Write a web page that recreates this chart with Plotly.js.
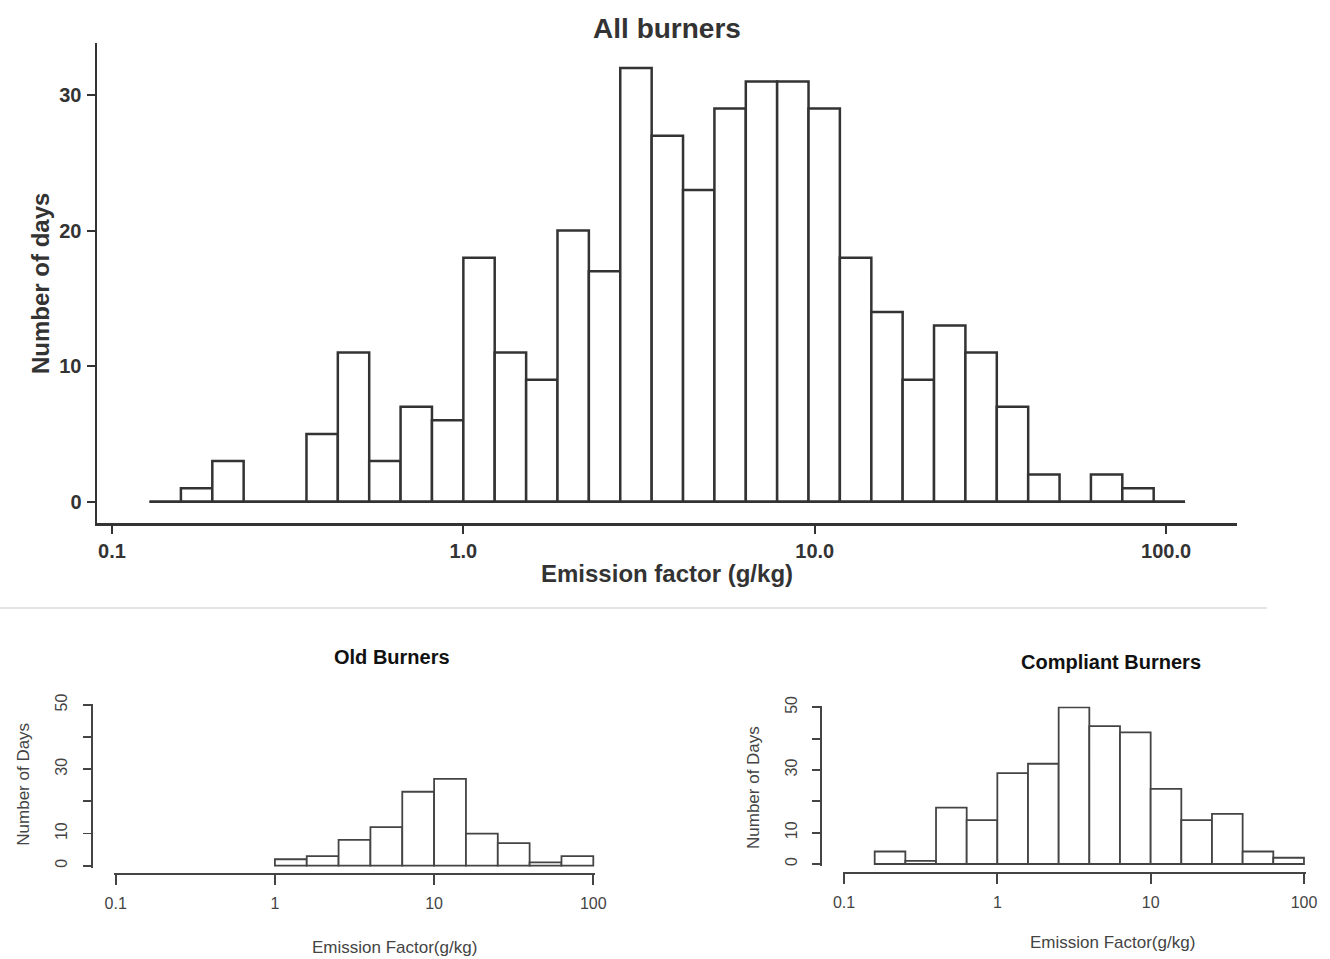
<!DOCTYPE html>
<html><head><meta charset="utf-8">
<script src="https://cdn.plot.ly/plotly-3.0.1.min.js"></script>
<style>html,body{margin:0;padding:0;background:#fff}#chart{width:1330px;height:959px}</style>
</head><body><div id="chart"></div>
<script>
// ---- All burners (top): bin edges in g/kg and counts ----
const allEdges = [0.1279,0.1571,0.1930,0.2370,0.2911,0.3577,0.4393,0.5396,0.6628,0.8141,1.0,
  1.228,1.509,1.853,2.276,2.796,3.435,4.219,5.182,6.365,7.816,9.601,11.79,14.49,17.79,21.85,
  26.84,32.97,40.50,49.74,61.09,75.04,92.17,113.2];
const allCounts = [0,1,3,0,0,5,11,3,7,6,18,11,9,20,17,32,27,23,29,31,31,29,18,14,9,13,11,7,2,0,2,1,0];

// ---- Old Burners ----
const oldEdges = [1,1.585,2.512,3.981,6.310,10,15.85,25.12,39.81,63.10,100];
const oldCounts = [2,3,8,12,23,27,10,7,1,3];

// ---- Compliant Burners ----
const compEdges = [0.1585,0.2512,0.3981,0.6310,1,1.585,2.512,3.981,6.310,10,15.85,25.12,39.81,63.10,100];
const compCounts = [4,1,18,14,29,32,50,44,42,24,14,16,4,2];

// ---- Tick labels ----
const xTickValues = [0.1,1,10,100];
const topXTickText = ["0.1","1.0","10.0","100.0"];
const bottomXTickText = ["0.1","1","10","100"];
const topYTicks = [0,10,20,30];
const bottomYTicks = [0,10,20,30,40,50];
const bottomYTickText = ["0","10","","30","","50"];

const W = 1330, H = 959;
const fx = p => p / W, fy = p => 1 - p / H;
const FONT = 'Liberation Sans, Arial, sans-serif';
const ink = '#333333';

function barTrace(edges, counts, xa, ya, lw, col) {
  const lo = edges.map(Math.log10);
  const x = [], w = [];
  for (let i = 0; i < counts.length; i++) { x.push((lo[i] + lo[i+1]) / 2); w.push(lo[i+1] - lo[i]); }
  return {type:'bar', x:x, y:counts, width:w, xaxis:xa, yaxis:ya,
    marker:{color:'#ffffff', line:{color:col, width:lw}}, hoverinfo:'skip', showlegend:false};
}
const allLog = allEdges.map(Math.log10);
const baseline = {type:'scatter', mode:'lines', x:[allLog[0], allLog[allLog.length-1]], y:[0,0],
  xaxis:'x', yaxis:'y', line:{color:ink, width:2.5}, hoverinfo:'skip', showlegend:false};

const traces = [
  barTrace(allEdges, allCounts, 'x', 'y', 2.5, ink),
  baseline,
  barTrace(oldEdges, oldCounts, 'x2', 'y2', 1.8, '#444'),
  barTrace(compEdges, compCounts, 'x3', 'y3', 1.8, '#444')
];

const tv = xTickValues.map(Math.log10);
const topTickFont = {family:FONT, size:20, weight:'bold', color:ink};
const botTickFont = {family:FONT, size:16, color:'#444'};

function botX(d0, d1, pos) {
  return {domain:[fx(d0), fx(d1)], range:[-1.01, 2.01], anchor:'free', position:fy(pos),
    tickvals:tv, ticktext:bottomXTickText, ticks:'outside', ticklen:10, tickwidth:1.8, tickcolor:'#444',
    showline:true, linewidth:1.8, linecolor:'#444', showgrid:false, zeroline:false,
    tickfont:botTickFont, ticklabelstandoff:5, fixedrange:true};
}
function botY(p0, p1, pos) {
  return {domain:[fy(p0), fy(p1)], range:[-0.6, 50.3], anchor:'free', position:fx(pos),
    tickvals:bottomYTicks, ticktext:bottomYTickText, tickangle:-90, ticks:'outside', ticklen:8,
    tickwidth:1.8, tickcolor:'#444', showline:true, linewidth:1.8, linecolor:'#444',
    showgrid:false, zeroline:false, tickfont:botTickFont, ticklabelstandoff:9, fixedrange:true};
}

const layout = {
  width:W, height:H, margin:{l:0,r:0,t:0,b:0}, paper_bgcolor:'#ffffff', plot_bgcolor:'rgba(0,0,0,0)',
  showlegend:false, bargap:0, barmode:'overlay',
  title:{text:'All burners', x:fx(667), y:fy(28), xanchor:'center', yanchor:'middle',
    font:{family:FONT, size:28, weight:'bold', color:ink}},
  xaxis:{domain:[fx(97), fx(1237)], range:[-1.0426, 2.2017], anchor:'y',
    tickvals:tv, ticktext:topXTickText, ticks:'outside', ticklen:8, tickwidth:2, tickcolor:ink,
    showline:true, linewidth:2.5, linecolor:ink, showgrid:false, zeroline:false,
    tickfont:topTickFont, ticklabelstandoff:0, fixedrange:true},
  yaxis:{domain:[fy(523), fy(43)], range:[-1.571, 33.84], anchor:'x',
    tickvals:topYTicks, ticks:'outside', ticklen:8, tickwidth:2, tickcolor:ink,
    showline:true, linewidth:2.5, linecolor:ink, showgrid:false, zeroline:false,
    tickfont:topTickFont, ticklabelstandoff:1, fixedrange:true},
  xaxis2: botX(114.1, 594.9, 872.7),
  yaxis2: botY(867.6, 704.0, 90.7),
  xaxis3: botX(842.5, 1305.5, 871.7),
  yaxis3: botY(865.9, 706.4, 820),
  shapes:[{type:'line', xref:'paper', yref:'paper', x0:0, x1:fx(1267), y0:fy(608), y1:fy(608),
    line:{color:'#e4e4e4', width:2}}],
  annotations:[
    {text:'Number of days', x:fx(40), y:fy(284), xref:'paper', yref:'paper', textangle:-90,
      showarrow:false, xanchor:'center', yanchor:'middle', font:{family:FONT, size:24, weight:'bold', color:ink}},
    {text:'Emission factor (g/kg)', x:fx(667), y:fy(573), xref:'paper', yref:'paper',
      showarrow:false, xanchor:'center', yanchor:'middle', font:{family:FONT, size:24, weight:'bold', color:ink}},
    {text:'Old Burners', x:fx(392), y:fy(657), xref:'paper', yref:'paper',
      showarrow:false, xanchor:'center', yanchor:'middle', font:{family:FONT, size:20, weight:'bold', color:'#111'}},
    {text:'Compliant Burners', x:fx(1111), y:fy(662), xref:'paper', yref:'paper',
      showarrow:false, xanchor:'center', yanchor:'middle', font:{family:FONT, size:20, weight:'bold', color:'#111'}},
    {text:'Number of Days', x:fx(22.7), y:fy(784), xref:'paper', yref:'paper', textangle:-90,
      showarrow:false, xanchor:'center', yanchor:'middle', font:{family:FONT, size:17, color:'#444'}},
    {text:'Emission Factor(g/kg)', x:fx(394), y:fy(947), xref:'paper', yref:'paper',
      showarrow:false, xanchor:'center', yanchor:'middle', font:{family:FONT, size:17, color:'#444'}},
    {text:'Number of Days', x:fx(753), y:fy(787), xref:'paper', yref:'paper', textangle:-90,
      showarrow:false, xanchor:'center', yanchor:'middle', font:{family:FONT, size:17, color:'#444'}},
    {text:'Emission Factor(g/kg)', x:fx(1112), y:fy(942), xref:'paper', yref:'paper',
      showarrow:false, xanchor:'center', yanchor:'middle', font:{family:FONT, size:17, color:'#444'}}
  ]
};

Plotly.newPlot('chart', traces, layout, {displayModeBar:false, staticPlot:true});
</script>
</body></html>
